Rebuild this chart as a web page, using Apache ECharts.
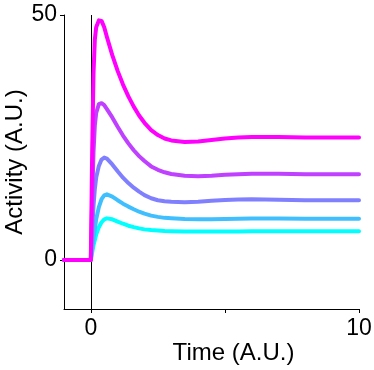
<!DOCTYPE html>
<html>
<head>
<meta charset="utf-8">
<script src="https://cdn.jsdelivr.net/npm/echarts@6/dist/echarts.min.js"></script>
<style>
html,body{margin:0;padding:0;background:#fff;}
#chart{width:374px;height:370px;}
</style>
</head>
<body>
<div id="chart"></div>
<script>
// Time samples (A.U.)
const time = [-1, 0, 0.05, 0.1, 0.15, 0.2, 0.3, 0.4, 0.5, 0.6, 0.8, 1.0, 1.2, 1.4, 1.6, 1.8, 2.0, 2.25, 2.5, 2.75, 3.0, 3.5, 4.0, 4.5, 5.0, 5.5, 6.0, 7.0, 8.0, 9.0, 10.0];
// Activity series (A.U.), lowest to highest
const cyanVals    = [0, 0, 1.5, 3.0, 4.1, 5.2, 6.7, 7.7, 8.3, 8.5, 8.3, 7.85, 7.4, 7.0, 6.7, 6.45, 6.25, 6.1, 6.0, 5.9, 5.85, 5.8, 5.8, 5.8, 5.8, 5.8, 5.85, 5.85, 5.85, 5.85, 5.85];
const skyVals     = [0, 0, 2.3, 4.5, 6.3, 8.3, 10.8, 12.4, 13.2, 13.4, 12.95, 12.2, 11.5, 10.9, 10.35, 9.85, 9.45, 9.05, 8.8, 8.6, 8.5, 8.35, 8.3, 8.3, 8.35, 8.4, 8.45, 8.45, 8.4, 8.4, 8.4];
const blueVals    = [0, 0, 6, 11, 14.5, 16.8, 19.2, 20.5, 20.9, 20.7, 19.5, 18.1, 16.8, 15.7, 14.75, 13.95, 13.25, 12.6, 12.2, 12.0, 11.9, 11.8, 11.9, 12.1, 12.25, 12.35, 12.4, 12.3, 12.2, 12.2, 12.2];
const purpleVals  = [0, 0, 12, 22, 27.5, 30, 31.8, 32, 31.6, 30.8, 29.1, 27.2, 25.4, 23.8, 22.4, 21.2, 20.2, 19.1, 18.4, 17.9, 17.55, 17.2, 17.1, 17.2, 17.4, 17.5, 17.6, 17.6, 17.5, 17.5, 17.5];
const magentaVals = [0, 0, 22, 38, 45, 47.5, 48.9, 48.8, 47.5, 45.5, 41.8, 38.6, 35.8, 33.4, 31.3, 29.5, 28.0, 26.5, 25.5, 24.8, 24.4, 24.1, 24.2, 24.5, 24.8, 25.0, 25.1, 25.1, 25.0, 25.0, 25.0];
const seriesNames = ['cyan', 'sky', 'blue', 'purple', 'magenta'];
const seriesValues = [cyanVals, skyVals, blueVals, purpleVals, magentaVals];
const seriesColors = ['#00ffff', '#40bfff', '#8080ff', '#bf40ff', '#ff00ff'];
// Axis ticks / labels
const xTicks = [0, 5, 10];
const xLabels = [0, 10];
const yTicks = [0, 50];
const yLabels = [0, 50];
const stimulusTime = [0];

const font = "'Liberation Sans', Arial, sans-serif";
const chart = echarts.init(document.getElementById('chart'), null, {renderer: 'canvas'});

const series = seriesValues.map((vals, i) => ({
  name: seriesNames[i],
  type: 'line',
  data: time.map((t, k) => [t, vals[k]]),
  showSymbol: false,
  smooth: false,
  lineStyle: {color: seriesColors[i], width: 4, join: 'round', cap: 'round'},
  itemStyle: {color: seriesColors[i]},
  z: 2 + i
}));
series[0].markLine = {
  silent: true,
  symbol: ['none', 'none'],
  label: {show: false},
  lineStyle: {color: '#000', width: 1, type: 'solid'},
  data: stimulusTime.map(v => ({xAxis: v}))
};

chart.setOption({
  animation: false,
  backgroundColor: '#fff',
  grid: {left: 64, right: 15, top: 15, bottom: 61, containLabel: false, outerBoundsMode: 'none'},
  xAxis: {
    type: 'value', min: -1, max: 10,
    name: 'Time (A.U.)', nameLocation: 'middle', nameGap: 32, nameMoveOverlap: false,
    nameTextStyle: {fontFamily: font, fontSize: 24, color: '#000', padding: [0, 0, 0, 44]},
    axisLine: {show: true, onZero: false, lineStyle: {color: '#000', width: 1}},
    axisTick: {show: true, length: 4, customValues: xTicks, lineStyle: {color: '#000'}},
    axisLabel: {customValues: xLabels, fontFamily: font, fontSize: 23, color: '#000', margin: 8},
    splitLine: {show: false}
  },
  yAxis: {
    type: 'value', min: -10, max: 50,
    name: 'Activity (A.U.)', nameLocation: 'middle', nameGap: 37, nameMoveOverlap: false,
    nameTextStyle: {fontFamily: font, fontSize: 24, color: '#000'},
    axisLine: {show: true, onZero: false, lineStyle: {color: '#000', width: 1}},
    axisTick: {show: true, length: 4, customValues: yTicks, lineStyle: {color: '#000'}},
    axisLabel: {customValues: yLabels, fontFamily: font, fontSize: 23, color: '#000', margin: 7},
    splitLine: {show: false}
  },
  series: series
});
</script>
</body>
</html>
